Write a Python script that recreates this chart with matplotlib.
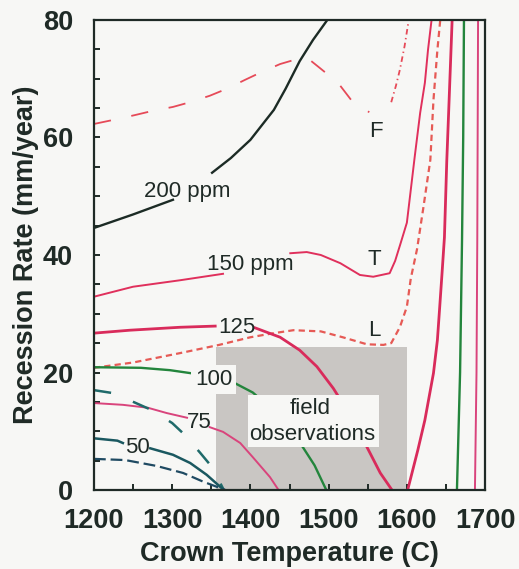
import numpy as np
import matplotlib
matplotlib.use("Agg")
import matplotlib.pyplot as plt
from matplotlib.patches import Rectangle

nan = np.nan

# ---- recession-rate curves (temperature in C, rate in mm/year) ----
# 200 ppm
t200 = [1200, 1250, 1301, nan, 1351, 1375, 1400, 1430, 1445, 1463, 1480, 1501]
r200 = [44.6, 46.9, 49.4, nan, 54.0, 56.5, 59.6, 64.7, 68.3, 73.0, 76.6, 80.5]

# F
tF = [1200, 1225, 1252, 1274, 1301, 1320, 1348, 1370, 1393, 1412, 1438, 1461,
      1475, 1489, 1512, 1531, 1552]
rF = [62.3, 63.0, 63.8, 64.5, 65.2, 65.9, 67.1, 68.3, 69.8, 71.0, 72.5, 73.4,
      73.3, 71.8, 69.3, 66.0, 64.3]
tF_rise = [1580, 1586, 1591, 1597, 1603]
rF_rise = [66.0, 68.8, 71.5, 75.5, 80.5]

# T (150 ppm)
tT = [1200, 1250, 1310, 1365, nan, 1451, 1472, 1490, 1515, 1540, 1557, 1578,
      1585, 1592, 1600, 1610, 1617, 1623, 1627, 1632]
rT = [32.9, 34.6, 35.7, 36.8, nan, 40.3, 40.5, 40.0, 38.6, 36.6, 36.3, 36.9,
      39.0, 42.0, 45.5, 56.7, 64.2, 69.3, 74.9, 80.5]

# L
tL = [1200, 1250, 1310, 1360, 1400, 1430, 1455, 1490, 1518, 1549, 1570, 1580,
      1591, 1600, 1605, 1613, 1621, 1630, 1634, 1639, 1643]
rL = [20.8, 21.7, 23.3, 24.7, 26.0, 26.7, 27.2, 27.0, 26.0, 24.8, 24.7, 25.0,
      27.7, 31.2, 36.0, 41.0, 48.0, 56.2, 66.4, 74.9, 80.5]

# 125 ppm
t125 = [1200, 1246, 1310, 1355, nan, 1406, 1438, 1463, 1485, 1506, 1530, 1549,
        1566, 1581]
r125 = [26.7, 27.2, 27.7, 27.9, nan, 27.6, 26.0, 23.8, 21.0, 17.3, 12.2, 7.3,
        2.9, 0.0]
t125_hi = [1601, 1614, 1623, 1634, 1639, 1642, 1645, 1648, 1651, 1654, 1658]
r125_hi = [0.0, 6.8, 11.9, 19.9, 25.5, 31.2, 37.0, 43.0, 56.0, 66.4, 80.5]

# 100 ppm
t100 = [1200, 1260, 1297, 1323, nan, 1380, 1403, 1430, 1450, 1467, 1482, 1497]
r100 = [20.9, 20.8, 20.4, 19.9, nan, 18.2, 16.6, 13.5, 10.5, 7.3, 4.2, 0.0]
t100_hi = [1664, 1668, 1670.5, 1672, 1673]
r100_hi = [0.0, 20.0, 42.6, 60.0, 80.5]

# 75 ppm
t75 = [1200, 1237, 1269, 1293, 1319, nan, 1348, 1365, 1387, 1403, 1425, 1436]
r75 = [14.8, 14.5, 14.0, 13.1, 12.3, nan, 10.7, 9.9, 8.0, 5.6, 2.2, 0.0]
t75_hi = [1687, 1689, 1690, 1691]
r75_hi = [0.0, 20.0, 42.6, 80.5]

# dashed teal
t_td = [1200, 1224, 1252, 1274, 1300, 1316, 1336, 1351, 1366]
r_td = [17.0, 16.5, 14.9, 13.6, 11.4, 9.4, 6.3, 3.9, 0.0]

# 50 ppm
t50 = [1200, 1230, 1237, nan, 1272, 1301, 1323, 1344, 1366]
r50 = [8.8, 8.4, 8.0, nan, 7.1, 6.0, 4.6, 2.6, 0.0]

# dashed dark blue
t_dd = [1200, 1240, 1280, 1314, 1340, 1368]
r_dd = [5.3, 5.1, 4.1, 2.9, 1.4, 0.0]

# field observation window
field_t = (1356, 1600)
field_r = (0.0, 24.3)

x_ticks = [1200, 1300, 1400, 1500, 1600, 1700]
y_ticks = [0, 20, 40, 60, 80]

# ---- drawing ----
plt.rcParams['font.family'] = ['Liberation Sans', 'DejaVu Sans']
plt.rcParams['lines.scale_dashes'] = False

BG = '#f7f7f5'
INK = '#1f2a26'
fig = plt.figure(figsize=(5.19, 5.69), dpi=100, facecolor=BG)
ax = fig.add_axes([0.181, 0.1388, 0.7537, 0.8261], facecolor=BG)

ax.add_patch(Rectangle((field_t[0], field_r[0]), field_t[1] - field_t[0],
                       field_r[1] - field_r[0], facecolor='#c9c6c3',
                       edgecolor='none', zorder=1))

ax.plot(t200, r200, color='#1c2b25', lw=1.7, zorder=3)
ax.plot(tF, rF, color='#e64a58', lw=1.3, dashes=(12.5, 15), zorder=3)
ax.plot(tF_rise, rF_rise, color='#e64a58', lw=1.3, dashes=(4, 2.5, 1, 2.5), zorder=3)
ax.plot(tT, rT, color='#e0305c', lw=1.4, zorder=3)
ax.plot(tL, rL, color='#e65a55', lw=1.6, dashes=(4.5, 3), zorder=3)
ax.plot(t125, r125, color='#d92b5b', lw=2.0, zorder=3)
ax.plot(t125_hi, r125_hi, color='#d92b5b', lw=2.0, zorder=3)
ax.plot(t100, r100, color='#23853c', lw=1.7, zorder=3)
ax.plot(t100_hi, r100_hi, color='#23853c', lw=1.7, zorder=3)
ax.plot(t75, r75, color='#d9447c', lw=1.4, zorder=3)
ax.plot(t75_hi, r75_hi, color='#d9447c', lw=1.4, zorder=3)
ax.plot(t_td, r_td, color='#1f6a6a', lw=1.8, dashes=(12.5, 17), zorder=3)
ax.plot(t50, r50, color='#1a5860', lw=1.8, zorder=3)
ax.plot(t_dd, r_dd, color='#1f4a62', lw=1.6, dashes=(8.5, 3.5), zorder=3)

# white label panel for the observation window
ax.add_patch(Rectangle((1397, 7.3), 167.5, 8.9, facecolor=BG,
                       edgecolor='none', zorder=4))
ax.text(1476, 12.9, 'field', ha='center', va='baseline', fontsize=16,
        color=INK, zorder=5)
ax.text(1479, 8.5, 'observations', ha='center', va='baseline', fontsize=16,
        color=INK, zorder=5)

lab_kw = dict(va='baseline', ha='left', fontsize=16, color=INK, zorder=5)
ax.text(1264, 49.9, '200 ppm', **lab_kw)
ax.text(1344.5, 37.4, '150 ppm', **lab_kw)
ax.text(1358.6, 26.7, '125', **lab_kw)
ax.text(1329, 17.9, '100', bbox=dict(facecolor=BG, edgecolor='none', pad=3),
        **lab_kw)
ax.text(1319, 10.6, '75', **lab_kw)
ax.text(1239.6, 6.3, '50', **lab_kw)
ax.text(1551.7, 60.1, 'F', **lab_kw)
ax.text(1550, 38.3, 'T', **lab_kw)
ax.text(1550, 26.2, 'L', **lab_kw)

ax.set_xlim(1200, 1700)
ax.set_ylim(0, 80)
ax.set_xticks(x_ticks)
ax.set_yticks(y_ticks)
ax.set_xticks(np.arange(1250, 1700, 100), minor=True)
ax.set_yticks(np.arange(5, 80, 5), minor=True)
ax.tick_params(which='both', direction='in', length=4.3, width=1.4,
               color=INK, top=False, right=False)
ax.tick_params(axis='x', which='major', pad=13, labelsize=19.5, labelcolor=INK)
ax.tick_params(axis='y', which='major', pad=15, labelsize=19.5, labelcolor=INK)
for lab in ax.get_xticklabels() + ax.get_yticklabels():
    lab.set_fontweight('bold')
for sp in ax.spines.values():
    sp.set_linewidth(1.6)
    sp.set_color(INK)
    sp.set_zorder(6)

ax.set_xlabel('Crown Temperature (C)', fontsize=19.5, fontweight='bold',
              color=INK, labelpad=5)
ax.set_ylabel('Recession Rate (mm/year)', fontsize=19.5, fontweight='bold',
              color=INK, labelpad=3)

fig.savefig('out.png', dpi=100, facecolor=BG)
